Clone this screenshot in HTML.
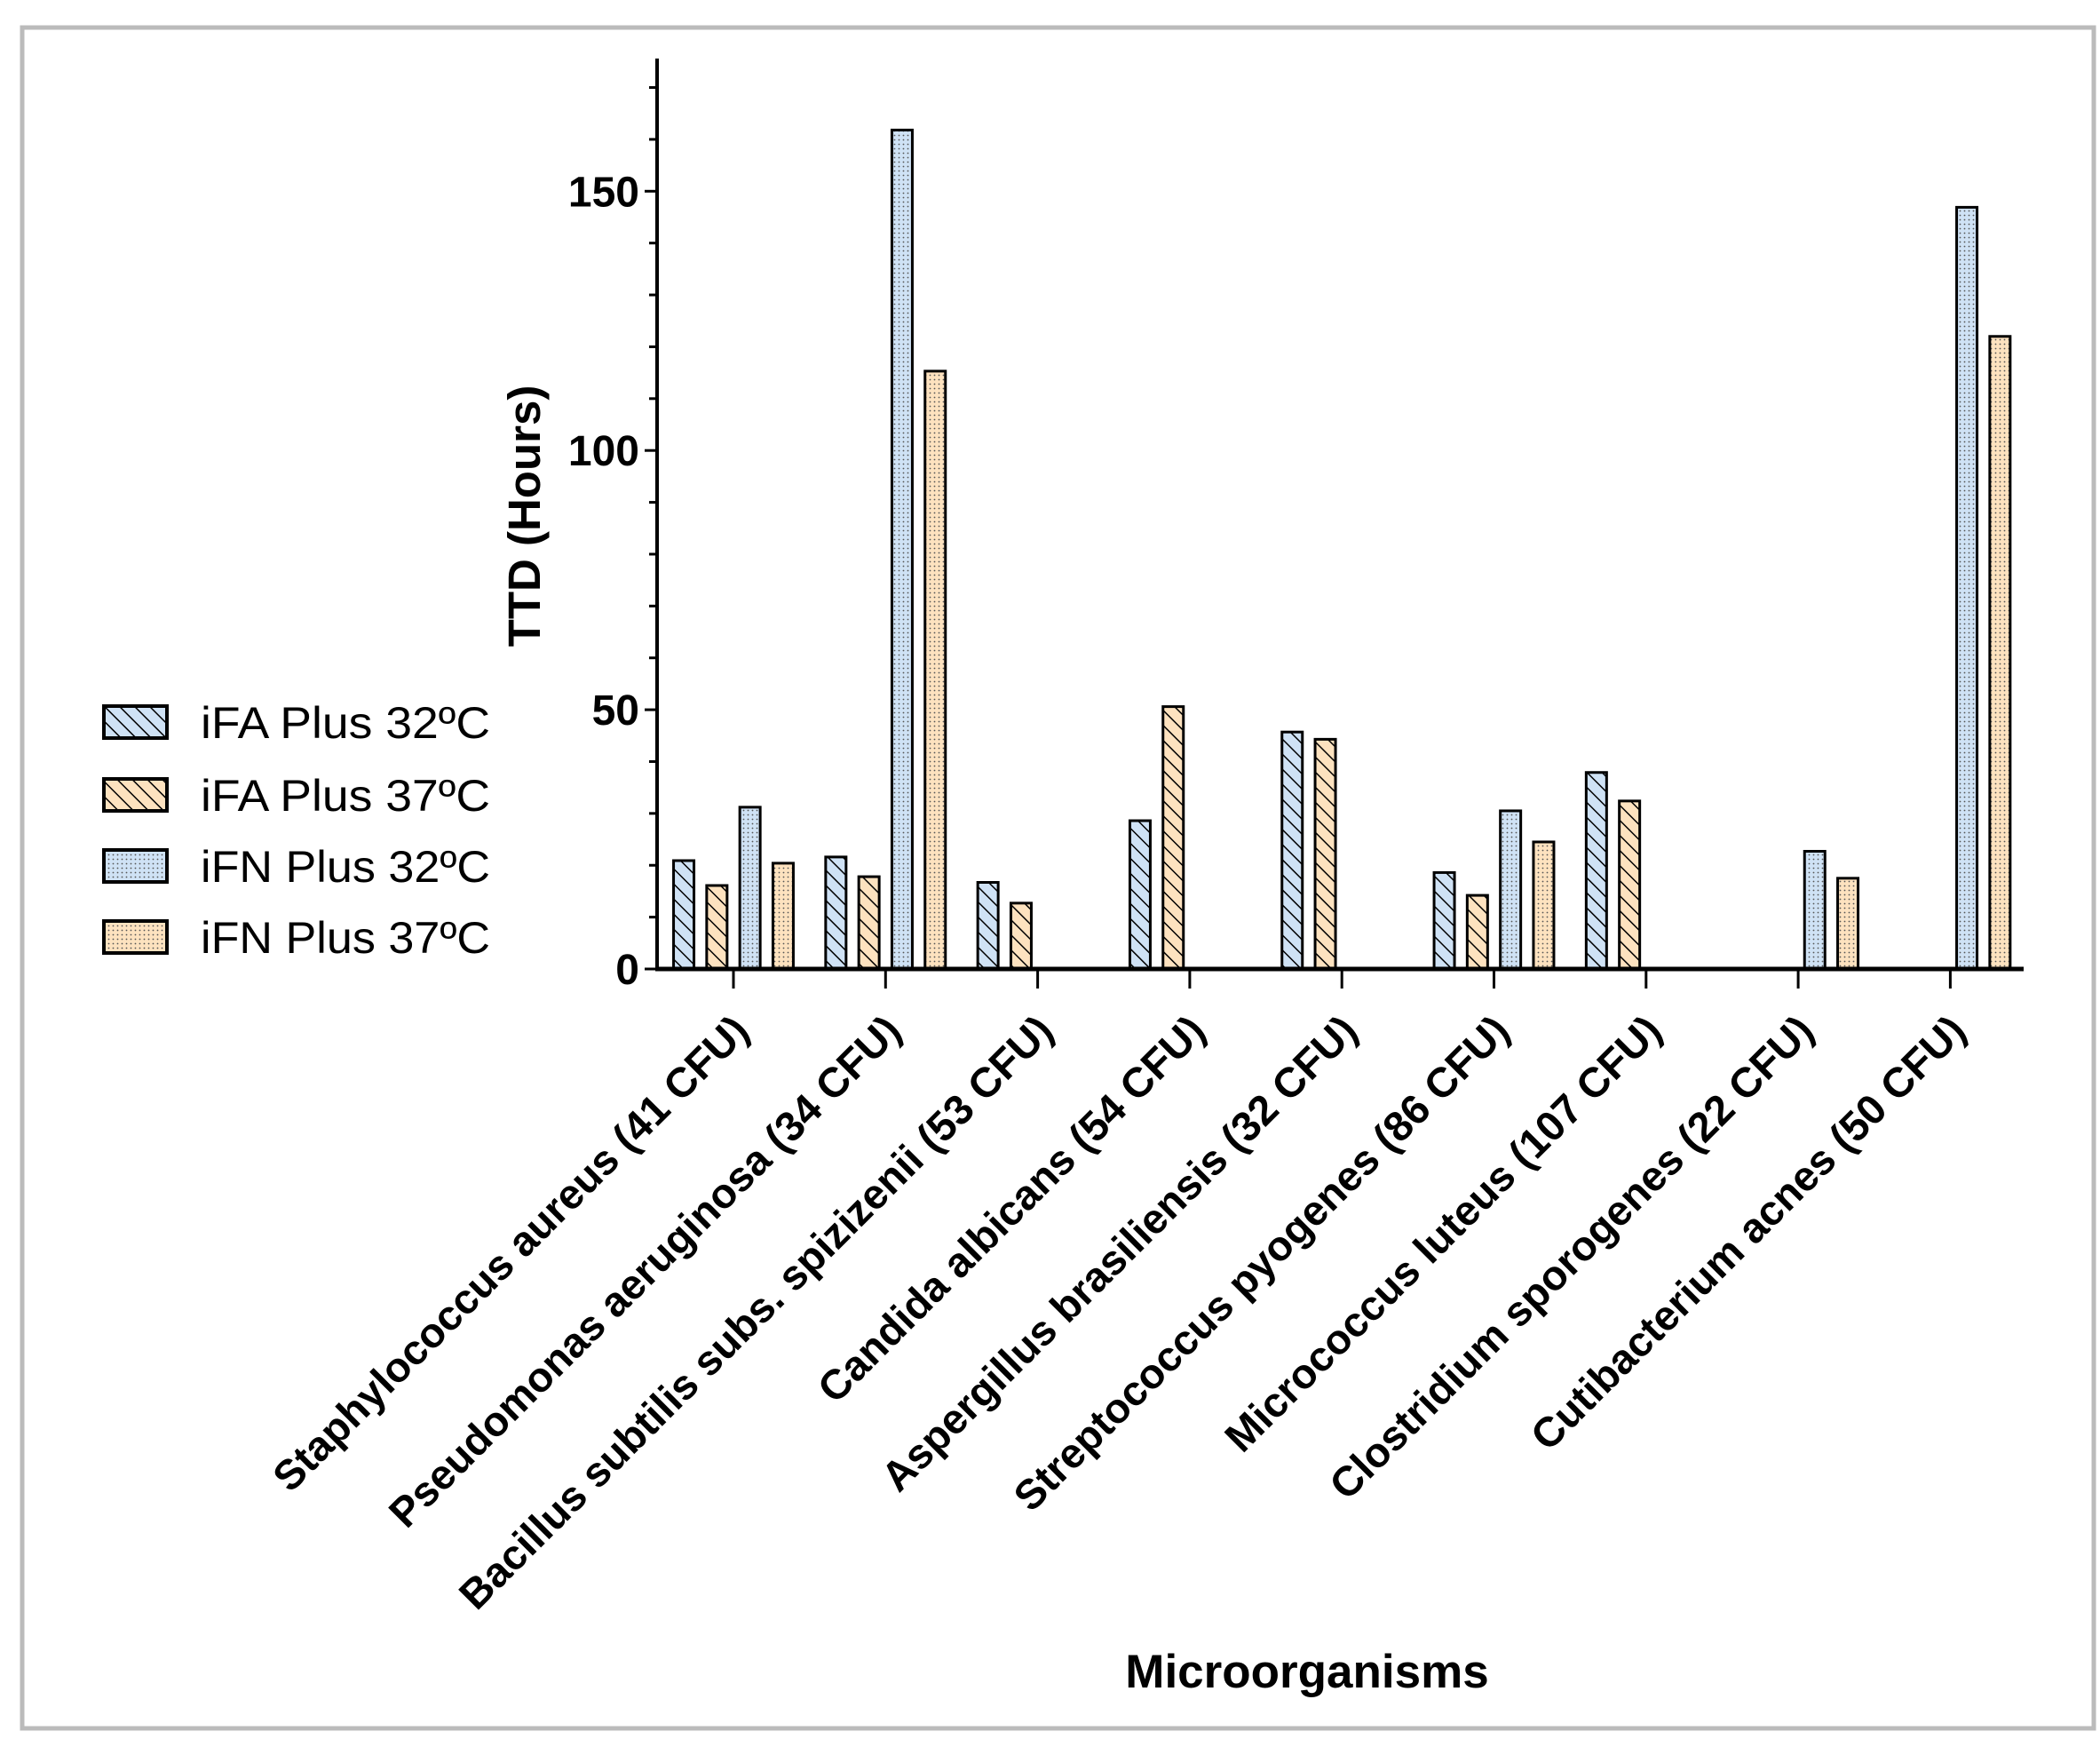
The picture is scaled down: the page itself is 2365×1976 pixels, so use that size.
<!DOCTYPE html>
<html><head><meta charset="utf-8"><style>
body{margin:0;background:#fff;}
svg{display:block;font-family:"Liberation Sans",Arial,sans-serif;}
</style></head><body>
<svg id="chart" width="2365" height="1976" viewBox="0 0 2365 1976">
<defs>
<pattern id="hatchBlue" patternUnits="userSpaceOnUse" width="12" height="12" patternTransform="rotate(-45)">
<rect width="12" height="12" fill="#cfe2f5"/><line x1="0" y1="0" x2="0" y2="12" stroke="#000" stroke-width="3"/></pattern>
<pattern id="hatchPeach" patternUnits="userSpaceOnUse" width="12" height="12" patternTransform="rotate(-45)">
<rect width="12" height="12" fill="#fde2bf"/><line x1="0" y1="0" x2="0" y2="12" stroke="#000" stroke-width="3"/></pattern>
<pattern id="dotBlue" patternUnits="userSpaceOnUse" width="5" height="5">
<rect width="5" height="5" fill="#cfe2f5"/><circle cx="2.5" cy="2.5" r="0.9" fill="#555"/></pattern>
<pattern id="dotPeach" patternUnits="userSpaceOnUse" width="5" height="5">
<rect width="5" height="5" fill="#fde2bf"/><circle cx="2.5" cy="2.5" r="0.9" fill="#555"/></pattern>
</defs>
<rect x="25" y="31" width="2333" height="1915" fill="none" stroke="#bbb" stroke-width="5"/>
<g id="plot"></g>
</svg>
<script>
const categories=["Staphylococcus aureus (41 CFU)","Pseudomonas aeruginosa (34 CFU)","Bacillus subtilis subs. spizizenii (53 CFU)","Candida albicans (54 CFU)","Aspergillus brasiliensis (32 CFU)","Streptococcus pyogenes (86 CFU)","Micrococcus luteus (107 CFU)","Clostridium sporogenes (22 CFU)","Cutibacterium acnes (50 CFU)"];
const seriesNames=["iFA Plus 32ºC","iFA Plus 37ºC","iFN Plus 32ºC","iFN Plus 37ºC"];
const ifa32=[20.9,21.6,16.7,28.6,45.7,18.6,37.9,null,null];
const ifa37=[16.1,17.8,12.7,50.6,44.3,14.2,32.4,null,null];
const ifn32=[31.2,161.8,null,null,null,30.5,null,22.7,146.9];
const ifn37=[20.4,115.3,null,null,null,24.5,null,17.5,122.0];
const yTicks=[0,50,100,150];
const yMax=175.6;

const NS="http://www.w3.org/2000/svg";
const g=document.getElementById('plot');
function el(t,a,txt){const e=document.createElementNS(NS,t);for(const k in a)e.setAttribute(k,a[k]);if(txt!=null)e.textContent=txt;g.appendChild(e);return e;}
const x0=740,x1=2279,y0=1091,pxPer=5.838;
const yS=v=>y0-v*pxPer;
const xS=i=>826+i*171.3;
const fills=["url(#hatchBlue)","url(#hatchPeach)","url(#dotBlue)","url(#dotPeach)"];
const series=[ifa32,ifa37,ifn32,ifn37];
const bw=23,step=37.3;
series.forEach((s,k)=>{s.forEach((v,i)=>{if(v==null)return;
 const cx=xS(i)+(k-1.5)*step;
 const r=el('rect',{x:cx-bw/2,y:yS(v),width:bw,height:v*pxPer,fill:fills[k],stroke:'#000','stroke-width':3});
 
 
});});
let a=el('line',{x1:x0,y1:yS(yMax),x2:x0,y2:y0+2,stroke:'#000','stroke-width':4});

for(let v=0;v<=170;v+=10){const big=v%50===0;
 const t=el('line',{x1:x0-(big?14:9),y1:yS(v),x2:x0,y2:yS(v),stroke:'#000','stroke-width':3});
 }
yTicks.forEach(v=>{const t=el('text',{x:x0-20,y:yS(v)+17,'text-anchor':'end','font-size':48,'font-weight':'bold'},String(v));
 });
a=el('line',{x1:x0-2,y1:y0,x2:x1,y2:y0,stroke:'#000','stroke-width':5});

categories.forEach((c,i)=>{const x=xS(i);
 const t=el('line',{x1:x,y1:y0,x2:x,y2:y0+22,stroke:'#000','stroke-width':3});
 
 const ax=x+20,ay=y0+72;
 const lb=el('text',{x:ax,y:ay,'text-anchor':'end','font-size':47,'font-weight':'bold',transform:`rotate(-45 ${ax} ${ay})`},c);
 });
let tt=el('text',{x:0,y:0,'text-anchor':'middle','font-size':51,'font-weight':'bold',transform:'translate(608 581) rotate(-90)'},'TTD (Hours)');

tt=el('text',{x:1472,y:1900,'text-anchor':'middle','font-size':53,'font-weight':'bold'},'Microorganisms');

const ly=[795,877,957,1037];
seriesNames.forEach((n,k)=>{
 const r=el('rect',{x:117,y:ly[k],width:71,height:36,fill:fills[k],stroke:'#000','stroke-width':4});
 
 const t=el('text',{x:226,y:ly[k]+36,'font-size':50,textLength:326,lengthAdjust:'spacingAndGlyphs'},n);
 });
</script>
</body></html>
